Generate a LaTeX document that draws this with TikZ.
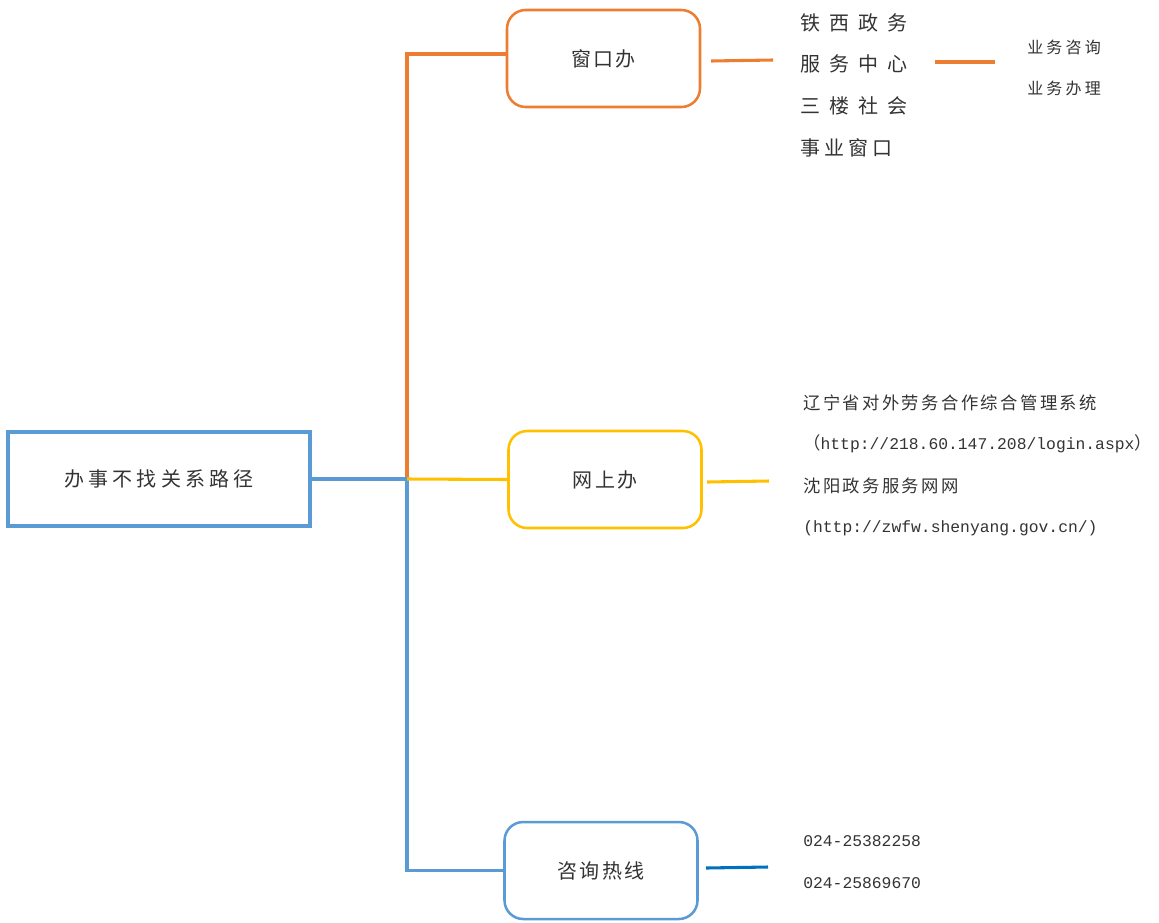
\documentclass[tikz,border=0pt]{standalone}
\usepackage{fontspec}
\setmainfont{Liberation Serif}
\newfontfamily\cjk{Noto Sans CJK SC}
\newfontfamily\monof{Liberation Mono}
\definecolor{cOrange}{HTML}{ED7D31}
\definecolor{cYellow}{HTML}{FFC000}
\definecolor{cBlue}{HTML}{5B9BD5}
\definecolor{cDark}{HTML}{0070C0}
\definecolor{txt}{HTML}{333333}
\begin{document}
\begin{tikzpicture}[x=0.75pt,y=-0.75pt,
  rootbox/.style={draw=cBlue,line width=2.6pt,minimum width=226.5pt,minimum height=70.5pt,inner sep=0pt,text=txt,font=\cjk\fontsize{15pt}{18pt}\selectfont},
  rbox/.style={draw=#1,line width=1.9pt,rounded corners=14pt,minimum width=144.75pt,minimum height=72.75pt,inner sep=0pt,text=txt,font=\cjk\fontsize{15pt}{18pt}\selectfont},
  ln/.style={line width=2.3pt},
  bigt/.style={anchor=west,inner sep=0pt,text=txt,font=\cjk\fontsize{15pt}{18pt}\selectfont},
  midt/.style={anchor=west,inner sep=0pt,text=txt,font=\cjk\fontsize{13pt}{16pt}\selectfont},
  smt/.style={anchor=west,inner sep=0pt,text=txt,font=\cjk\fontsize{12pt}{14pt}\selectfont},
  mono/.style={anchor=west,inner sep=0pt,text=txt,font=\monof\fontsize{12.26pt}{15pt}\selectfont}
]
\useasboundingbox (0,0) rectangle (1159,922);

% main boxes
\node[rootbox] (root) at (159,479) {办\kern3.2pt事\kern3.2pt不\kern3.2pt找\kern3.2pt关\kern3.2pt系\kern3.2pt路\kern3.2pt径};
\node[rbox=cOrange] (wk) at (603.5,58.5) {窗\kern1.7pt口\kern1.7pt办};
\node[rbox=cYellow] (ws) at (605,479.5) {网\kern1.7pt上\kern1.7pt办};
\node[rbox=cBlue] (zx) at (601,870.5) {咨\kern1.7pt询\kern1.7pt热\kern1.7pt线};

% trunk connectors
\coordinate (j) at (407,479);
\draw[ln,cOrange] (j) |- ([yshift=3.4pt]wk.west);
\draw[ln,cBlue] (root.east) -- (j) |- (zx.west);
\draw[ln,cYellow] (j) -- (ws.west);

% window branch
\coordinate (o1a) at (711,61);
\coordinate (o1b) at (773,60);
\draw[ln,cOrange] (o1a) -- (o1b);
\node[bigt] (t1) at (800,23) {铁\kern6.75pt西\kern6.75pt政\kern6.75pt务};
\node[bigt] (t2) at (800,64) {服\kern6.75pt务\kern6.75pt中\kern6.75pt心};
\node[bigt] (t3) at (800,106) {三\kern6.75pt楼\kern6.75pt社\kern6.75pt会};
\node[bigt] (t4) at (800,148) {事\kern3pt业\kern3pt窗\kern3pt口};
\coordinate (o2a) at (935,62);
\coordinate (o2b) at (995,62);
\draw[ln,cOrange] (o2a) -- (o2b);
\node[smt] (s1) at (1027,47) {业\kern2.4pt务\kern2.4pt咨\kern2.4pt询};
\node[smt] (s2) at (1027,88) {业\kern2.4pt务\kern2.4pt办\kern2.4pt理};

% online branch
\coordinate (y1a) at (707,482);
\coordinate (y1b) at (769,481);
\draw[ln,cYellow] (y1a) -- (y1b);
\node[midt] (u1) at (803,403) {辽\kern1.8pt宁\kern1.8pt省\kern1.8pt对\kern1.8pt外\kern1.8pt劳\kern1.8pt务\kern1.8pt合\kern1.8pt作\kern1.8pt综\kern1.8pt合\kern1.8pt管\kern1.8pt理\kern1.8pt系\kern1.8pt统};
\node[anchor=west,inner sep=0pt,text=txt] (u2) at (803,444) {{\cjk\fontsize{13pt}{16pt}\selectfont （}{\monof\fontsize{12.26pt}{15pt}\selectfont http://218.60.147.208/login.aspx}{\cjk\fontsize{13pt}{16pt}\selectfont ）}};
\node[midt] (u3) at (803,486) {沈\kern1.8pt阳\kern1.8pt政\kern1.8pt务\kern1.8pt服\kern1.8pt务\kern1.8pt网\kern1.8pt网};
\node[mono] (u4) at (803,528) {(http://zwfw.shenyang.gov.cn/)};

% hotline branch
\coordinate (b1a) at (706,868);
\coordinate (b1b) at (768,867);
\draw[ln,cDark] (b1a) -- (b1b);
\node[mono] (p1) at (803,841) {024-25382258};
\node[mono] (p2) at (803,883) {024-25869670};
\end{tikzpicture}
\end{document}
